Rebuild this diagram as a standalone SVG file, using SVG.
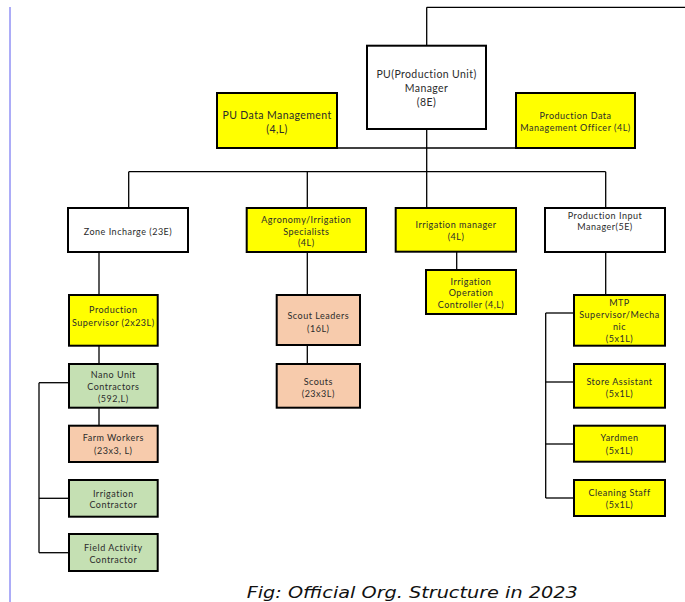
<svg xmlns="http://www.w3.org/2000/svg" width="685" height="602" viewBox="0 0 685 602">
<style>
.b{stroke:#000;stroke-width:2}
.w{fill:#fff}.y{fill:#ffff00}.g{fill:#c5e0b3}.p{fill:#f7cbac}
text{font-family:Lato,"Open Sans","Liberation Sans",sans-serif;font-size:9px;fill:#2b2b2b;text-anchor:middle;letter-spacing:0.5px;dominant-baseline:central}
.L{font-size:10.5px;letter-spacing:0.4px}
.cap{font-family:"DejaVu Sans","Liberation Sans",sans-serif;font-style:italic;font-size:16px;fill:#111;text-anchor:start;letter-spacing:0;dominant-baseline:auto}
#conn line{stroke:#000;stroke-width:1.3}
</style>
<rect width="685" height="602" fill="#fff"/>
<line x1="10" y1="7" x2="10" y2="602" stroke="#5b5bf0" stroke-width="1"/>
<g id="conn">
<line x1="426.7" y1="7.3" x2="685" y2="7.3"/>
<line x1="426.7" y1="7.3" x2="426.7" y2="45.7"/>
<line x1="426.7" y1="129" x2="426.7" y2="208"/>
<line x1="337" y1="148" x2="516" y2="148"/>
<line x1="128.7" y1="171.7" x2="605.7" y2="171.7"/>
<line x1="128.7" y1="171.7" x2="128.7" y2="208"/>
<line x1="307.3" y1="171.7" x2="307.3" y2="208"/>
<line x1="605.7" y1="171.7" x2="605.7" y2="208"/>
<line x1="99" y1="252" x2="99" y2="295"/>
<line x1="99" y1="345.7" x2="99" y2="364"/>
<line x1="99" y1="407.7" x2="99" y2="425.7"/>
<line x1="39" y1="382.7" x2="39" y2="552.7"/>
<line x1="39" y1="382.7" x2="69" y2="382.7"/>
<line x1="39" y1="498.3" x2="69" y2="498.3"/>
<line x1="39" y1="552.7" x2="69" y2="552.7"/>
<line x1="307.3" y1="252" x2="307.3" y2="295"/>
<line x1="307.3" y1="345" x2="307.3" y2="364"/>
<line x1="456.7" y1="252" x2="456.7" y2="270"/>
<line x1="605.7" y1="252" x2="605.7" y2="295"/>
<line x1="545.7" y1="313" x2="545.7" y2="498"/>
<line x1="545.7" y1="313" x2="574" y2="313"/>
<line x1="545.7" y1="382" x2="574" y2="382"/>
<line x1="545.7" y1="444" x2="574" y2="444"/>
<line x1="545.7" y1="498" x2="574" y2="498"/>
</g>
<g id="pu-manager"><rect class="b w" x="367" y="45.7" width="119" height="83.3"/>
<text class="L" x="426.5" y="74.3">PU(Production Unit)</text><text class="L" x="426.5" y="88">Manager</text><text class="L" x="426.5" y="102">(8E)</text></g>
<g id="pu-data"><rect class="b y" x="217" y="93" width="120" height="55"/>
<text class="L" x="277" y="115">PU Data Management</text><text class="L" x="277" y="129.3">(4,L)</text></g>
<g id="pd-officer"><rect class="b y" x="516" y="93" width="119" height="55"/>
<text x="575.5" y="115">Production Data</text><text x="575.5" y="127.3">Management Officer (4L)</text></g>
<g id="zone"><rect class="b w" x="68" y="208" width="120" height="44"/>
<text x="128" y="231.3">Zone Incharge (23E)</text></g>
<g id="agronomy"><rect class="b y" x="246.7" y="208" width="119.3" height="44"/>
<text x="306.3" y="219.3">Agronomy/Irrigation</text><text x="306.3" y="231">Specialists</text><text x="306.3" y="242">(4L)</text></g>
<g id="irr-manager"><rect class="b y" x="395.7" y="208" width="120.3" height="43.7"/>
<text x="456" y="224">Irrigation manager</text><text x="456" y="236.3">(4L)</text></g>
<g id="pi-manager"><rect class="b w" x="545" y="208" width="120" height="44"/>
<text x="605" y="215">Production Input</text><text x="605" y="226.3">Manager(5E)</text></g>
<g id="irr-op"><rect class="b y" x="426" y="270" width="90" height="44"/>
<text x="471" y="281">Irrigation</text><text x="471" y="292.3">Operation</text><text x="471" y="304.3">Controller (4,L)</text></g>
<g id="prod-sup"><rect class="b y" x="69" y="295" width="88.7" height="50.7"/>
<text x="113.3" y="309.3">Production</text><text x="113.3" y="322">Supervisor (2x23L)</text></g>
<g id="nano"><rect class="b g" x="69" y="364" width="88.7" height="43.7"/>
<text x="113.3" y="374.3">Nano Unit</text><text x="113.3" y="386.7">Contractors</text><text x="113.3" y="398.3">(592,L)</text></g>
<g id="farm"><rect class="b p" x="69" y="425.7" width="88.7" height="36.3"/>
<text x="113.3" y="437.7">Farm Workers</text><text x="113.3" y="450">(23x3, L)</text></g>
<g id="irr-contractor"><rect class="b g" x="69" y="480" width="88.7" height="36.7"/>
<text x="113.3" y="493.3">Irrigation</text><text x="113.3" y="504">Contractor</text></g>
<g id="field"><rect class="b g" x="69" y="534" width="88.7" height="37"/>
<text x="113.3" y="547.3">Field Activity</text><text x="113.3" y="559.3">Contractor</text></g>
<g id="scout-leaders"><rect class="b p" x="276.7" y="295" width="83.3" height="50"/>
<text x="318.3" y="315.3">Scout Leaders</text><text x="318.3" y="328.3">(16L)</text></g>
<g id="scouts"><rect class="b p" x="276.7" y="364" width="83.3" height="43.7"/>
<text x="318.3" y="381.7">Scouts</text><text x="318.3" y="393.3">(23x3L)</text></g>
<g id="mtp"><rect class="b y" x="574" y="295" width="91" height="50.7"/>
<text x="619.5" y="302.3">MTP</text><text x="619.5" y="314.3">Supervisor/Mecha</text><text x="619.5" y="326.7">nic</text><text x="619.5" y="338.3">(5x1L)</text></g>
<g id="store"><rect class="b y" x="574" y="364" width="91" height="43.7"/>
<text x="619.5" y="381">Store Assistant</text><text x="619.5" y="393.3">(5x1L)</text></g>
<g id="yardmen"><rect class="b y" x="574" y="425.7" width="91" height="36"/>
<text x="619.5" y="437.7">Yardmen</text><text x="619.5" y="450">(5x1L)</text></g>
<g id="cleaning"><rect class="b y" x="574" y="480" width="91" height="36"/>
<text x="619.5" y="492.7">Cleaning Staff</text><text x="619.5" y="504.3">(5x1L)</text></g>
<text class="cap" x="246.7" y="597.5" textLength="331" lengthAdjust="spacingAndGlyphs">Fig: Official Org. Structure in 2023</text>
</svg>
